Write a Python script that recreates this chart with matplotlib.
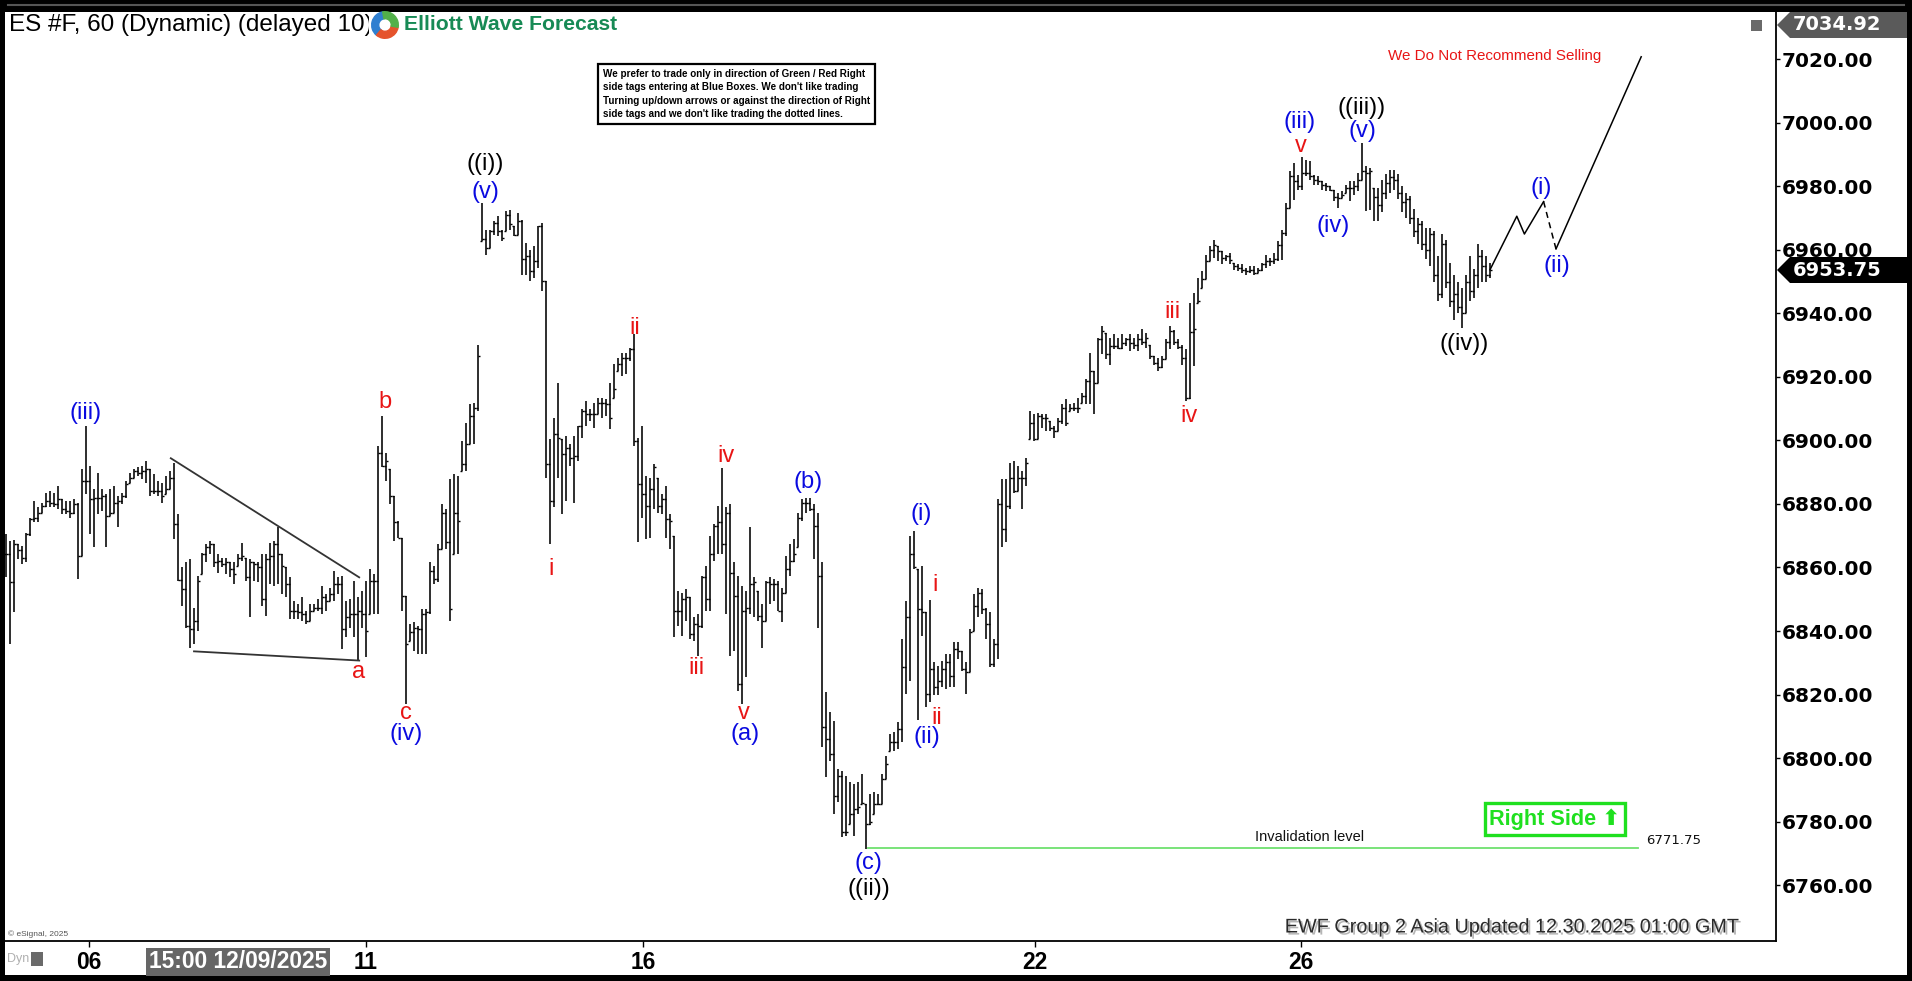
import numpy as np
import matplotlib.pyplot as plt
import matplotlib.patheffects as pe
from matplotlib import font_manager
from matplotlib.patches import Rectangle, Wedge, Polygon
from matplotlib.lines import Line2D

W, H = 1912, 981

# ES #F hourly bars (high, low, close) left to right
highs = [
    6870.5, 6868.4, 6868.6, 6867.3, 6866.8, 6871.0, 6875.7, 6881.0, 6878.9, 6880.4,
    6883.6, 6884.1, 6883.6, 6885.7, 6881.5, 6881.0, 6881.0, 6881.5, 6880.4, 6890.9,
    6904.6, 6892.0, 6884.6, 6889.9, 6884.6, 6883.0, 6884.6, 6885.7, 6882.5, 6883.6,
    6887.3, 6889.9, 6890.9, 6891.5, 6892.0, 6893.5, 6890.9, 6889.4, 6887.3, 6886.7,
    6888.8, 6890.4, 6893.0, 6876.8, 6860.0, 6861.6, 6862.6, 6847.4, 6857.4, 6864.7,
    6867.3, 6868.4, 6867.3, 6864.2, 6863.1, 6863.1, 6861.6, 6861.6, 6864.2, 6867.8,
    6863.1, 6862.6, 6861.6, 6861.6, 6864.2, 6864.2, 6867.8, 6868.4, 6872.6, 6864.2,
    6860.0, 6856.9, 6849.5, 6848.5, 6850.6, 6846.4, 6848.5, 6848.5, 6850.0, 6854.2,
    6851.6, 6853.7, 6859.0, 6856.9, 6857.4, 6849.5, 6850.0, 6855.8, 6850.6, 6852.7,
    6855.8, 6859.5, 6857.9, 6898.3, 6907.7, 6896.2, 6890.9, 6882.5, 6874.7, 6869.4,
    6851.1, 6842.2, 6842.7, 6841.7, 6846.9, 6846.9, 6861.6, 6860.5, 6867.3, 6880.0,
    6878.4, 6887.8, 6889.4, 6888.8, 6899.8, 6905.6, 6911.4, 6911.9, 6930.2, 6974.8,
    6966.4, 6966.4, 6969.0, 6970.6, 6966.4, 6972.2, 6972.7, 6967.4, 6971.6, 6969.5,
    6962.2, 6960.1, 6961.2, 6967.4, 6968.5, 6950.1, 6900.4, 6907.2, 6918.2, 6900.4,
    6901.4, 6898.8, 6901.4, 6904.6, 6909.8, 6912.4, 6909.8, 6911.9, 6913.5, 6913.5,
    6913.0, 6918.2, 6924.0, 6926.1, 6927.6, 6927.6, 6929.2, 6933.4, 6900.9, 6904.6,
    6888.8, 6888.3, 6892.5, 6888.3, 6883.1, 6885.7, 6876.8, 6870.0, 6852.7, 6852.1,
    6853.2, 6850.6, 6844.3, 6845.3, 6857.4, 6860.5, 6870.0, 6873.6, 6879.4, 6891.4,
    6878.9, 6879.9, 6861.6, 6857.4, 6854.2, 6852.7, 6872.6, 6856.9, 6852.7, 6848.5,
    6855.8, 6856.9, 6856.3, 6855.8, 6853.7, 6863.7, 6867.3, 6868.9, 6877.3, 6881.5,
    6882.0, 6882.0, 6879.9, 6877.3, 6861.6, 6820.7, 6814.4, 6811.8, 6796.6, 6796.0,
    6794.5, 6792.4, 6791.9, 6792.4, 6795.0, 6785.6, 6788.7, 6789.3, 6788.7, 6795.0,
    6800.8, 6807.6, 6808.1, 6811.3, 6837.5, 6849.5, 6870.0, 6871.5, 6859.5, 6860.5,
    6845.9, 6849.9, 6830.1, 6829.1, 6830.7, 6832.8, 6832.8, 6836.4, 6836.4, 6833.8,
    6830.1, 6840.6, 6851.6, 6853.7, 6853.2, 6847.4, 6845.9, 6837.5, 6881.5, 6887.8,
    6887.8, 6893.0, 6893.5, 6892.0, 6890.4, 6894.6, 6909.3, 6908.2, 6908.8, 6908.2,
    6908.2, 6906.1, 6904.6, 6907.2, 6911.4, 6913.0, 6911.4, 6911.9, 6913.5, 6915.0,
    6919.2, 6927.6, 6921.9, 6932.3, 6936.0, 6933.9, 6932.3, 6933.4, 6932.3, 6933.4,
    6932.3, 6933.4, 6932.3, 6933.4, 6935.0, 6933.9, 6930.2, 6926.6, 6926.1, 6926.6,
    6931.8, 6936.0, 6934.9, 6931.8, 6930.2, 6928.7, 6943.3, 6946.5, 6951.2, 6953.3,
    6958.5, 6961.1, 6963.2, 6961.1, 6959.6, 6958.5, 6959.1, 6955.9, 6955.4, 6955.4,
    6954.3, 6954.9, 6954.9, 6954.3, 6955.9, 6958.5, 6957.5, 6959.1, 6962.7, 6966.4,
    6974.8, 6984.7, 6987.4, 6983.7, 6989.4, 6988.4, 6987.9, 6983.7, 6983.2, 6981.6,
    6981.0, 6980.0, 6979.0, 6977.9, 6978.4, 6980.5, 6981.6, 6981.6, 6984.2, 6993.6,
    6986.3, 6985.8, 6979.5, 6979.5, 6982.0, 6984.0, 6985.0, 6985.0, 6984.0, 6980.0,
    6978.0, 6977.0, 6973.0, 6970.0, 6969.0, 6967.0, 6967.0, 6966.0, 6958.0, 6965.0,
    6963.0, 6956.0, 6952.0, 6950.0, 6948.0, 6952.0, 6958.0, 6954.0, 6962.0, 6960.0,
    6958.0, 6956.0,
]
lows = [
    6856.9, 6835.9, 6845.9, 6862.6, 6861.1, 6861.6, 6870.0, 6874.2, 6874.2, 6877.3,
    6878.9, 6878.9, 6878.9, 6878.3, 6876.8, 6876.8, 6875.7, 6876.8, 6856.3, 6863.7,
    6883.1, 6870.5, 6866.3, 6876.8, 6877.8, 6866.3, 6876.3, 6877.3, 6872.6, 6879.9,
    6882.0, 6886.7, 6888.3, 6888.8, 6887.8, 6886.7, 6882.5, 6883.0, 6882.5, 6880.4,
    6883.0, 6884.6, 6868.9, 6855.8, 6848.0, 6841.1, 6834.8, 6835.9, 6840.1, 6857.9,
    6861.6, 6864.2, 6860.0, 6858.4, 6860.0, 6857.9, 6856.9, 6854.8, 6860.5, 6862.1,
    6855.8, 6844.3, 6855.8, 6855.3, 6848.0, 6844.8, 6854.8, 6854.2, 6854.8, 6851.6,
    6850.6, 6843.8, 6843.8, 6843.8, 6843.2, 6842.2, 6843.2, 6846.4, 6846.4, 6845.3,
    6846.4, 6849.5, 6849.5, 6851.6, 6834.3, 6838.0, 6841.1, 6838.0, 6830.6, 6841.1,
    6831.7, 6845.3, 6845.3, 6845.3, 6891.5, 6887.3, 6879.9, 6868.4, 6869.4, 6846.4,
    6817.0, 6837.0, 6833.8, 6832.8, 6832.8, 6832.8, 6845.3, 6854.8, 6855.3, 6865.8,
    6865.8, 6843.2, 6864.2, 6864.2, 6890.4, 6890.4, 6898.8, 6898.8, 6909.3, 6962.7,
    6958.5, 6960.6, 6964.8, 6964.3, 6962.7, 6965.9, 6966.4, 6964.3, 6964.8, 6952.2,
    6952.2, 6950.1, 6951.2, 6954.3, 6947.0, 6888.3, 6867.3, 6878.9, 6888.3, 6876.8,
    6880.9, 6892.0, 6880.4, 6893.5, 6900.9, 6904.6, 6906.1, 6904.0, 6908.2, 6907.2,
    6907.7, 6903.5, 6913.5, 6921.9, 6920.3, 6920.8, 6925.0, 6898.3, 6867.9, 6875.7,
    6868.9, 6869.4, 6878.4, 6877.3, 6876.8, 6869.4, 6865.8, 6838.0, 6841.7, 6838.5,
    6843.2, 6837.5, 6836.9, 6832.2, 6841.1, 6846.4, 6846.4, 6862.1, 6864.2, 6864.2,
    6845.3, 6832.2, 6833.8, 6821.2, 6817.0, 6825.4, 6845.3, 6844.3, 6843.2, 6834.8,
    6843.2, 6848.5, 6849.5, 6846.4, 6842.7, 6852.1, 6857.4, 6861.6, 6866.3, 6874.7,
    6877.3, 6877.8, 6862.6, 6841.1, 6803.4, 6794.0, 6799.2, 6782.4, 6786.1, 6775.1,
    6775.6, 6779.3, 6775.6, 6782.4, 6785.6, 6771.4, 6778.8, 6782.4, 6785.1, 6785.6,
    6793.4, 6802.3, 6802.3, 6803.0, 6805.0, 6820.2, 6824.4, 6859.5, 6812.0, 6838.5,
    6816.0, 6817.5, 6819.7, 6819.7, 6822.3, 6821.8, 6822.3, 6822.3, 6831.2, 6827.5,
    6820.2, 6827.0, 6840.1, 6844.3, 6845.3, 6837.5, 6828.6, 6828.6, 6831.2, 6866.3,
    6867.9, 6878.4, 6883.6, 6884.1, 6878.4, 6885.7, 6900.4, 6899.8, 6900.4, 6904.0,
    6903.0, 6903.0, 6900.9, 6903.0, 6905.1, 6904.6, 6909.3, 6909.3, 6908.8, 6911.9,
    6911.4, 6911.4, 6908.2, 6918.2, 6927.1, 6925.5, 6923.9, 6928.7, 6928.7, 6928.7,
    6929.7, 6928.2, 6928.7, 6928.2, 6930.2, 6929.2, 6925.5, 6923.9, 6921.9, 6922.9,
    6925.5, 6928.7, 6930.2, 6928.7, 6923.9, 6912.4, 6912.9, 6923.4, 6943.3, 6948.0,
    6950.7, 6956.4, 6957.5, 6956.4, 6955.4, 6956.4, 6955.4, 6953.8, 6953.3, 6952.8,
    6952.2, 6952.8, 6952.2, 6952.8, 6953.3, 6954.3, 6954.9, 6955.4, 6956.4, 6956.9,
    6964.3, 6973.2, 6975.8, 6979.0, 6979.0, 6983.2, 6982.1, 6980.5, 6980.5, 6979.0,
    6978.4, 6978.4, 6975.3, 6973.2, 6976.3, 6977.9, 6975.3, 6977.4, 6978.4, 6982.1,
    6972.2, 6972.7, 6969.0, 6969.0, 6972.0, 6976.0, 6978.0, 6979.0, 6976.0, 6972.0,
    6970.0, 6968.0, 6964.0, 6962.0, 6960.0, 6957.0, 6955.0, 6950.0, 6944.0, 6945.0,
    6948.0, 6942.0, 6938.0, 6940.0, 6935.5, 6940.0, 6944.0, 6945.0, 6948.0, 6950.0,
    6950.0, 6951.0,
]
closes = [
    6864.2, 6855.3, 6867.3, 6865.4, 6863.1, 6870.5, 6875.2, 6875.7, 6877.3, 6879.4,
    6881.0, 6880.4, 6879.9, 6881.5, 6878.3, 6877.8, 6877.3, 6879.9, 6863.7, 6887.3,
    6887.3, 6881.5, 6882.0, 6882.0, 6882.5, 6876.3, 6877.3, 6880.4, 6881.0, 6882.5,
    6886.2, 6888.3, 6890.4, 6889.9, 6890.4, 6890.9, 6884.1, 6884.1, 6884.1, 6882.5,
    6884.6, 6888.3, 6873.6, 6856.0, 6853.2, 6841.5, 6840.6, 6843.2, 6855.8, 6864.2,
    6866.3, 6867.3, 6861.6, 6862.1, 6861.1, 6861.6, 6859.5, 6857.9, 6863.1, 6863.7,
    6856.9, 6861.6, 6861.1, 6860.0, 6850.0, 6862.6, 6863.7, 6867.3, 6864.2, 6860.5,
    6854.8, 6846.4, 6846.4, 6845.9, 6845.3, 6843.2, 6846.4, 6847.4, 6847.4, 6850.6,
    6849.5, 6851.6, 6854.8, 6854.8, 6840.6, 6844.3, 6845.3, 6845.3, 6846.4, 6845.3,
    6840.1, 6855.8, 6855.8, 6896.2, 6892.0, 6893.5, 6882.5, 6874.2, 6869.4, 6851.1,
    6836.0, 6839.6, 6841.1, 6840.6, 6845.3, 6845.9, 6859.0, 6856.3, 6865.8, 6877.3,
    6867.9, 6846.9, 6877.3, 6874.7, 6892.5, 6898.8, 6907.7, 6910.3, 6926.6, 6963.3,
    6960.6, 6965.9, 6968.5, 6965.9, 6963.8, 6971.1, 6968.0, 6964.8, 6969.0, 6957.0,
    6958.0, 6953.3, 6956.4, 6967.4, 6950.1, 6892.5, 6880.9, 6901.9, 6900.9, 6895.6,
    6897.7, 6894.6, 6895.1, 6904.6, 6909.3, 6908.2, 6908.2, 6908.2, 6911.9, 6911.9,
    6911.4, 6907.2, 6916.1, 6924.0, 6926.1, 6926.1, 6928.7, 6899.8, 6886.2, 6883.1,
    6879.4, 6884.6, 6891.5, 6879.4, 6881.5, 6875.2, 6874.7, 6846.4, 6846.4, 6850.0,
    6850.6, 6839.0, 6842.2, 6841.7, 6856.9, 6850.0, 6864.2, 6873.1, 6874.2, 6867.3,
    6877.3, 6858.4, 6851.1, 6823.3, 6846.4, 6847.4, 6854.8, 6855.3, 6844.8, 6843.2,
    6855.3, 6854.8, 6854.8, 6846.4, 6852.1, 6859.5, 6862.1, 6864.2, 6875.7, 6880.4,
    6880.4, 6878.3, 6873.1, 6857.4, 6809.7, 6806.0, 6801.3, 6788.2, 6794.5, 6776.7,
    6776.7, 6782.4, 6784.0, 6784.5, 6786.0, 6779.3, 6779.8, 6785.6, 6785.6, 6793.4,
    6798.2, 6805.0, 6805.0, 6809.0, 6828.6, 6844.3, 6864.2, 6860.0, 6846.9, 6845.9,
    6820.2, 6828.0, 6822.3, 6824.4, 6828.0, 6830.1, 6825.9, 6834.3, 6833.8, 6828.0,
    6827.0, 6839.6, 6848.0, 6852.1, 6846.9, 6842.2, 6829.6, 6835.9, 6879.9, 6872.1,
    6879.4, 6888.3, 6884.1, 6888.3, 6888.3, 6893.0, 6905.6, 6900.4, 6907.7, 6907.2,
    6907.2, 6904.0, 6903.0, 6906.1, 6910.3, 6905.6, 6910.3, 6910.3, 6910.3, 6914.0,
    6918.7, 6921.9, 6918.2, 6931.8, 6934.4, 6927.1, 6929.7, 6929.7, 6929.2, 6930.8,
    6931.8, 6930.8, 6930.0, 6932.0, 6931.0, 6932.3, 6926.5, 6924.5, 6923.0, 6925.5,
    6931.0, 6934.5, 6931.0, 6929.5, 6926.0, 6913.5, 6934.0, 6935.0, 6944.0, 6950.7,
    6956.4, 6960.0, 6961.6, 6959.6, 6957.5, 6958.0, 6956.9, 6954.9, 6954.3, 6953.8,
    6953.3, 6953.8, 6952.8, 6953.8, 6955.4, 6956.4, 6956.4, 6957.0, 6961.6, 6965.3,
    6973.2, 6983.2, 6981.6, 6980.0, 6984.2, 6984.2, 6983.2, 6982.1, 6981.6, 6980.5,
    6980.0, 6979.0, 6976.8, 6976.3, 6977.4, 6979.5, 6979.5, 6980.0, 6982.1, 6984.7,
    6984.2, 6984.7, 6976.8, 6974.0, 6978.0, 6981.0, 6983.0, 6982.0, 6978.0, 6975.0,
    6976.0, 6970.0, 6966.0, 6968.0, 6962.0, 6960.0, 6965.0, 6952.0, 6946.0, 6962.0,
    6950.0, 6944.0, 6946.0, 6942.0, 6940.0, 6950.0, 6947.0, 6952.0, 6958.0, 6955.0,
    6952.0, 6953.75,
]

day_ticks = [20.75, 90, 159.25, 257.25, 323.75]
day_labels = ["06", "11", "16", "22", "26"]
price_ticks = [6760, 6780, 6800, 6820, 6840, 6860, 6880, 6900, 6920, 6940, 6960, 6980, 7000, 7020]

BLUE, RED, BLACK = "#0a0ae0", "#e81515", "black"
# (bar index, price, text, colour)
wave_labels = [
    (19.8, 6908.6, "(iii)", BLUE),
    (88.1, 6827.0, "a", RED),
    (94.8, 6912.0, "b", RED),
    (100.0, 6814.3, "c", RED),
    (100.0, 6807.6, "(iv)", BLUE),
    (119.8, 6987.0, "((i))", BLACK),
    (119.8, 6978.3, "(v)", BLUE),
    (136.3, 6859.6, "i", RED),
    (157.3, 6935.4, "ii", RED),
    (172.6, 6828.2, "iii", RED),
    (179.9, 6895.2, "iv", RED),
    (184.5, 6814.3, "v", RED),
    (184.8, 6807.6, "(a)", BLUE),
    (200.6, 6886.8, "(b)", BLUE),
    (215.6, 6766.9, "(c)", BLUE),
    (215.6, 6758.9, "((ii))", BLACK),
    (228.7, 6876.8, "(i)", BLUE),
    (232.3, 6854.6, "i", RED),
    (232.8, 6812.5, "ii", RED),
    (230.2, 6806.7, "(ii)", BLUE),
    (291.5, 6940.4, "iii", RED),
    (295.7, 6907.8, "iv", RED),
    (323.5, 7000.3, "(iii)", BLUE),
    (323.8, 6992.8, "v", RED),
    (339.0, 7004.7, "((iii))", BLACK),
    (339.0, 6997.4, "(v)", BLUE),
    (331.7, 6967.5, "(iv)", BLUE),
    (364.6, 6930.4, "((iv))", BLACK),
    (383.8, 6979.4, "(i)", BLUE),
    (387.8, 6954.9, "(ii)", BLUE),
]

# triangle trend lines in wave (iv)
tri_upper_x, tri_upper_y = [41.2, 88.3], [6894.4, 6856.9]
tri_lower_x, tri_lower_y = [47.0, 88.3], [6833.6, 6830.7]

# projected path
path_x, path_y = [371, 377.7, 379.6, 384.4], [6953.75, 6970.6, 6965.0, 6975.2]
dash_x, dash_y = [384.4, 387.5], [6975.2, 6960.3]
target_x, target_y = [387.5, 408.8], [6960.3, 7020.8]

invalidation = 6771.75
inval_x = [215.6, 408.0]
last_price = 6953.75
top_price = 7034.92

names = {f.name for f in font_manager.fontManager.ttflist}
HAS_NARROW = "Liberation Sans Narrow" in names
NARROW = "Liberation Sans Narrow" if HAS_NARROW else "Liberation Sans"
k = 1.0 if HAS_NARROW else 0.84


def fx(px):
    return px / W


def fy(py):
    return 1 - py / H


def price_tag(py, text, color, right):
    # left-pointing price flag on the right scale, in figure pixels
    pts = [(1777, py), (1790, py - 13), (right, py - 13), (right, py + 13), (1790, py + 13)]
    fig.add_artist(Polygon([(fx(a), fy(b)) for a, b in pts], closed=True,
                           transform=fig.transFigure, facecolor=color, edgecolor="none", zorder=6))
    fig.text(fx(1793), fy(py), text, ha="left", va="center", color="white", fontsize=14,
             fontweight="bold", family="DejaVu Sans", zorder=7)


fig = plt.figure(figsize=(W / 100, H / 100), dpi=100, facecolor="black")
fig.add_artist(Rectangle((fx(5), fy(975)), fx(1907) - fx(5), fy(12) - fy(975),
                         transform=fig.transFigure, facecolor="white", edgecolor="none", zorder=-5))
fig.add_artist(Line2D([fx(8), fx(1904)], [fy(5), fy(5)], color="#555555", lw=1.5,
                      transform=fig.transFigure))

ax = fig.add_axes([fx(5), fy(941), (1776 - 5) / W, (941 - 12) / H])
ax.set_facecolor("white")
ax.set_xlim(-0.25, 442.5)
ax.set_ylim(6742.4, 7034.9)

# OHLC bars, open taken as the prior close
x = np.arange(len(highs))
hi, lo, cl = np.array(highs), np.array(lows), np.array(closes)
op = np.clip(np.r_[cl[0], cl[:-1]], lo, hi)
ax.vlines(x, lo, hi, color="black", lw=1.15)
ax.hlines(op, x - 0.55, x, color="black", lw=1.0)
ax.hlines(cl, x, x + 0.55, color="black", lw=1.0)

ax.plot(tri_upper_x, tri_upper_y, color="#333333", lw=1.3)
ax.plot(tri_lower_x, tri_lower_y, color="#333333", lw=1.3)
ax.plot(path_x, path_y, color="black", lw=1.1)
ax.plot(dash_x, dash_y, color="black", lw=1.1, ls=(0, (4, 3)))
ax.plot(target_x, target_y, color="black", lw=1.1)

ax.plot(inval_x, [invalidation] * 2, color="#6ee06e", lw=1.3)
ax.text(326, invalidation + 3.4, "Invalidation level", ha="center", va="center",
        fontsize=10.5, family="Liberation Sans", color="#111111")
ax.text(410, invalidation + 2.3, f"{invalidation:.2f}", ha="left", va="center",
        fontsize=9.5, family="DejaVu Sans", color="#111111")

for bx, by, txt, col in wave_labels:
    ax.text(bx, by, txt, ha="center", va="center", color=col, fontsize=17,
            family="Liberation Sans", clip_on=False)

for side in ("top", "left"):
    ax.spines[side].set_visible(False)
for side in ("right", "bottom"):
    ax.spines[side].set_linewidth(1.3)

ax.yaxis.tick_right()
ax.set_yticks(price_ticks, labels=[f"{p:.2f}" for p in price_ticks])
ax.tick_params(axis="y", direction="out", length=3, width=1, pad=1, labelsize=14.5)
for lbl in ax.get_yticklabels():
    lbl.set_fontweight("bold")
    lbl.set_family("DejaVu Sans")

ax.set_xticks(day_ticks, labels=day_labels)
ax.tick_params(axis="x", direction="out", length=4, width=1, pad=3, labelsize=19.5 * k)
for lbl in ax.get_xticklabels():
    lbl.set_fontweight("bold")
    lbl.set_family(NARROW)

# crosshair date box on the time axis
fig.text(fx(238), fy(962), "15:00 12/09/2025", ha="center", va="center", color="white",
         fontsize=19.5 * k, fontweight="bold", family=NARROW,
         bbox=dict(boxstyle="square,pad=0.12", facecolor="#666666", edgecolor="none"))

price_tag(25, f"{top_price:.2f}", "#5a5a5a", 1907)
price_tag(270, f"{last_price:.2f}", "black", 1912)

# header
fig.text(fx(9), fy(25), "ES #F, 60 (Dynamic) (delayed 10)", ha="left", va="center",
         fontsize=17.5, family="Liberation Sans", color="black", zorder=3)
fig.add_artist(Rectangle((fx(369), fy(38)), fx(628) - fx(369), fy(12) - fy(38),
                         transform=fig.transFigure, facecolor="white", edgecolor="none", zorder=4))
logo = fig.add_axes([fx(371), fy(39), 28 / W, 28 / H])
logo.set_zorder(6)
logo.set_xlim(-1, 1)
logo.set_ylim(-1, 1)
logo.axis("off")
logo.add_patch(Wedge((0, 0), 0.95, 100, 230, width=0.5, color="#2f7fd0"))
logo.add_patch(Wedge((0, 0), 0.95, 230, 350, width=0.5, color="#e5532c"))
logo.add_patch(Wedge((0, 0), 0.95, -10, 100, width=0.5, color="#52b04a"))
fig.text(fx(404), fy(24), "Elliott Wave Forecast", ha="left", va="center", fontsize=15.2,
         fontweight="bold", family="Liberation Sans", color="#178a55", zorder=6)

fig.add_artist(Rectangle((fx(1751), fy(31)), 11 / W, 11 / H, transform=fig.transFigure,
                         facecolor="#6a6a6a", edgecolor="none", zorder=5))

disclaimer = ("We prefer to trade only in direction of Green / Red Right\n"
              "side tags entering at Blue Boxes. We don't like trading\n"
              "Turning up/down arrows or against the direction of Right\n"
              "side tags and we don't like trading the dotted lines.")
fig.text(fx(603), fy(69), disclaimer, ha="left", va="top", fontsize=8.5 * k, fontweight="bold",
         family=NARROW, linespacing=1.42, color="black", zorder=5,
         bbox=dict(boxstyle="square,pad=0.5", facecolor="white", edgecolor="black", lw=1.6))

fig.text(fx(1495), fy(56), "We Do Not Recommend Selling", ha="center", va="center",
         fontsize=13 * k, family=NARROW, color=RED, zorder=5)

fig.text(fx(1555), fy(819), "Right Side \u2b06", ha="center", va="center",
         fontsize=18.5 * k, fontweight="bold", family=[NARROW, "DejaVu Sans"], color="#1fe01f",
         zorder=5, bbox=dict(boxstyle="square,pad=0.22", facecolor="white",
                             edgecolor="#1fe01f", lw=2.4))

fig.text(fx(1740), fy(927), "EWF Group 2 Asia Updated 12.30.2025 01:00 GMT", ha="right",
         va="center", fontsize=17 * k, family=NARROW, color="#2a2a2a", zorder=5,
         path_effects=[pe.withSimplePatchShadow(offset=(1.5, -1.5), shadow_rgbFace="#b5b5b5",
                                                alpha=1.0)])

fig.text(fx(8), fy(934), "\u00a9 eSignal, 2025", ha="left", va="center", fontsize=6,
         family="Liberation Sans", color="#555555")
fig.text(fx(7), fy(959), "Dyn", ha="left", va="center", fontsize=9,
         family=NARROW, color="#b0b0b0")
fig.add_artist(Rectangle((fx(31), fy(966)), 12 / W, 14 / H, transform=fig.transFigure,
                         facecolor="#6a6a6a", edgecolor="none"))

fig.savefig("out.png", dpi=100, facecolor=fig.get_facecolor())
